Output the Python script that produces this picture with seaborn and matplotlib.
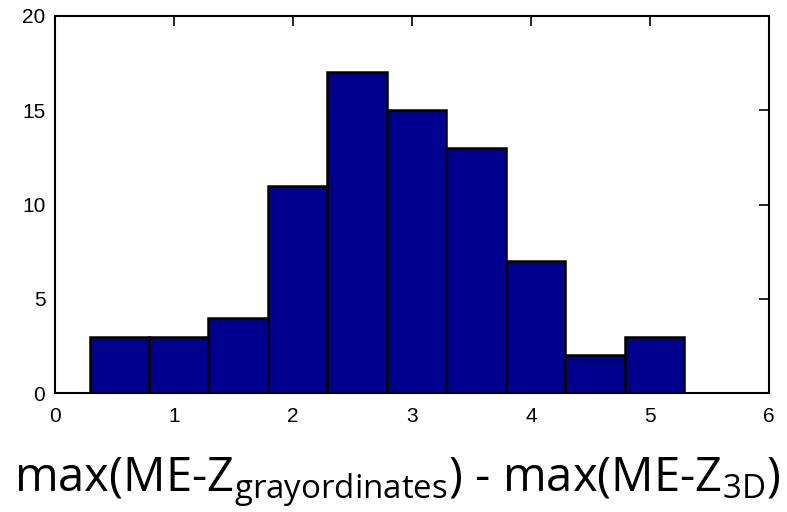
import matplotlib
matplotlib.use("Agg")
import matplotlib.pyplot as plt
import seaborn as sns
import numpy as np

# histogram counts
bin_edges = [0.29, 0.79, 1.29, 1.79, 2.29, 2.79, 3.29, 3.79, 4.29, 4.79, 5.29]
counts = [3, 3, 4, 11, 17, 15, 13, 7, 2, 3]
x_ticks = [0, 1, 2, 3, 4, 5, 6]
y_ticks = [0, 5, 10, 15, 20]
x_label = "max(ME-Z$_{\\mathregular{grayordinates}}$) - max(ME-Z$_{\\mathregular{3D}}$)"

sns.set_style("white")
plt.rcParams['font.family'] = ['Liberation Sans', 'DejaVu Sans']
plt.rcParams['mathtext.fontset'] = 'custom'
plt.rcParams['mathtext.rm'] = 'Open Sans'

centers = [(a + b) / 2 for a, b in zip(bin_edges[:-1], bin_edges[1:])]

fig = plt.figure(figsize=(7.87, 5.12), dpi=100)
ax = fig.add_axes([0.0699, 0.232, 0.907, 0.737])

sns.histplot(x=centers, weights=counts, bins=bin_edges, ax=ax,
             color="#00008F", edgecolor="black", linewidth=1.8, alpha=1.0)

ax.set_xlim(0, 6)
ax.set_ylim(0, 20)
ax.set_xticks(x_ticks)
ax.set_yticks(y_ticks)
ax.tick_params(direction="in", length=7, width=1.2, top=True, right=True,
               labelsize=15, colors="black")
ax.tick_params(axis="x", pad=10)
ax.tick_params(axis="y", pad=7)
for s in ax.spines.values():
    s.set_visible(True)
    s.set_linewidth(1.5)
    s.set_color("black")
ax.set_ylabel("")
ax.set_xlabel(x_label, fontsize=34, family="Open Sans", color="black")
ax.xaxis.set_label_coords(0.479, -0.165)

fig.savefig("out.png", dpi=100)
